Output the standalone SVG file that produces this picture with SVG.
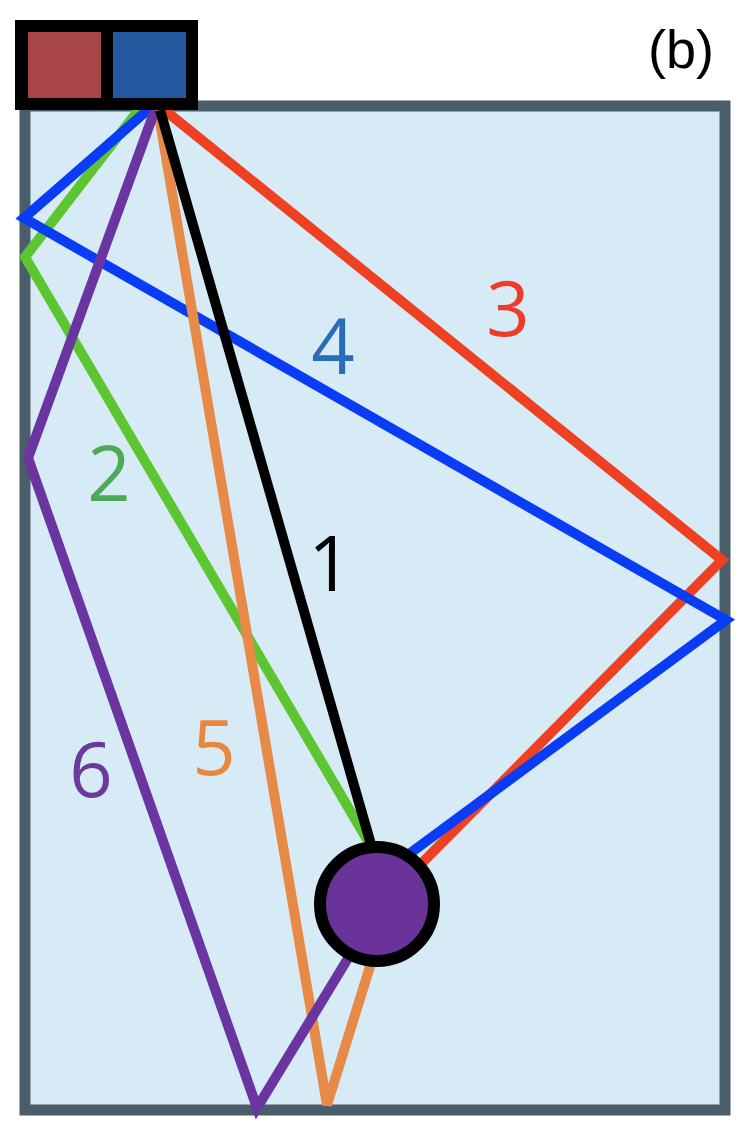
<svg xmlns="http://www.w3.org/2000/svg" width="748" height="1132" viewBox="0 0 748 1132">
<style>
.ln{fill:none;stroke-width:10;stroke-linejoin:miter;stroke-linecap:butt}
.lbl{font-family:"Open Sans","Liberation Sans",sans-serif;font-size:76px;text-anchor:middle}
</style>
<rect x="0" y="0" width="748" height="1132" fill="#ffffff"/>
<g id="room">
<rect x="25" y="106" width="700" height="1004" fill="#d7ebf7" stroke="#4a5d6a" stroke-width="11"/>
</g>
<g id="connectors">
<polyline class="ln" stroke="#5cc531" points="140,108 25,257 372,848"/>
<polyline class="ln" stroke="#ee4023" points="162,108 722,560 420,865"/>
<polyline class="ln" stroke="#0a3cf5" points="150,108 24,218 726,620 405,857"/>
<polyline class="ln" stroke="#e88a47" points="158,110 327,1105 372,960"/>
<polyline class="ln" stroke="#6a35a0" points="155,110 28,458 257,1108 350,955"/>
<polyline class="ln" stroke="#000000" points="160,110 372,848"/>
</g>
<g id="source">
<rect x="21" y="26" width="171" height="78" fill="#000000" stroke="#000000" stroke-width="12"/>
<rect x="28" y="32" width="73" height="66" fill="#a84549"/>
<rect x="113" y="32" width="73" height="66" fill="#23589e"/>
</g>
<g id="receiver">
<circle cx="377" cy="904" r="57" fill="#6a3399" stroke="#000000" stroke-width="12"/>
</g>
<g id="labels">
<text class="lbl" x="508" y="336" fill="#ee3b2a">3</text>
<text class="lbl" x="333" y="374" fill="#2b6cb8">4</text>
<text class="lbl" x="109" y="501" fill="#4daa57">2</text>
<text class="lbl" x="330" y="591" fill="#000000">1</text>
<text class="lbl" x="214" y="775" fill="#e8883d">5</text>
<text class="lbl" x="91" y="797" fill="#6b3a9a">6</text>
<text x="681" y="68" font-family="'Liberation Sans','Open Sans',sans-serif" font-size="54" text-anchor="middle" fill="#000000">(b)</text>
</g>
</svg>
